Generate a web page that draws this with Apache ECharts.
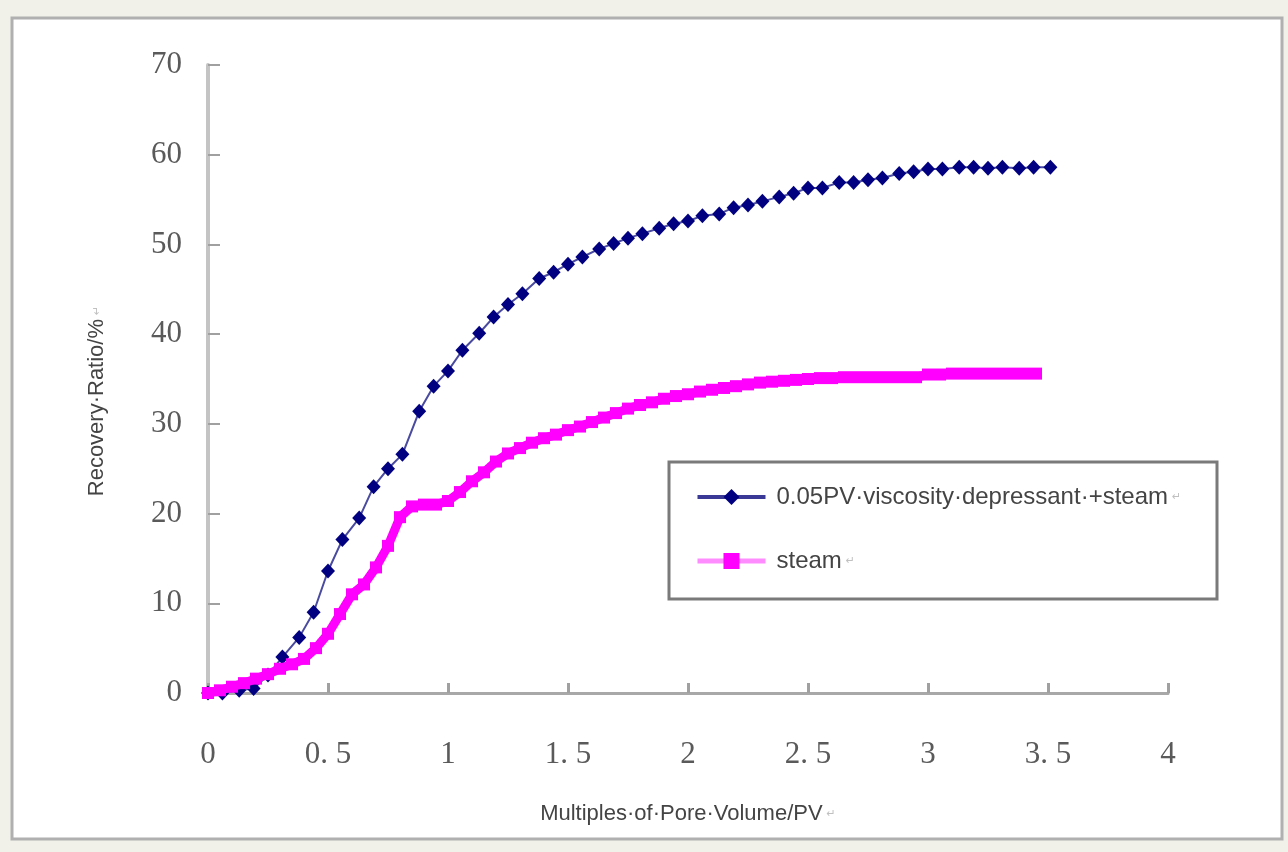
<!DOCTYPE html>
<html>
<head>
<meta charset="utf-8">
<script src="https://cdn.jsdelivr.net/npm/echarts@6/dist/echarts.min.js"></script>
<style>
  html, body { margin: 0; padding: 0; background: #f1f0e9; }
  #chart { width: 1288px; height: 852px; }
</style>
</head>
<body>
<div id="chart"></div>
<script>
// ---- data ----
const seriesNames = ['0.05PV·viscosity·depressant·+steam', 'steam'];
const xTickLabels = ['0', '0. 5', '1', '1. 5', '2', '2. 5', '3', '3. 5', '4'];
const yTickLabels = ['0', '10', '20', '30', '40', '50', '60', '70'];

const pvDepressant = [0, 0.06, 0.13, 0.19, 0.25, 0.31, 0.38, 0.44, 0.5, 0.56, 0.63, 0.69, 0.75, 0.81, 0.88, 0.94,
  1.0, 1.06, 1.13, 1.19, 1.25, 1.31, 1.38, 1.44, 1.5, 1.56, 1.63, 1.69, 1.75, 1.81, 1.88, 1.94,
  2.0, 2.06, 2.13, 2.19, 2.25, 2.31, 2.38, 2.44, 2.5, 2.56, 2.63, 2.69, 2.75, 2.81, 2.88, 2.94,
  3.0, 3.06, 3.13, 3.19, 3.25, 3.31, 3.38, 3.44, 3.51];
const recoveryDepressant = [0, 0, 0.3, 0.5, 2.0, 4.0, 6.2, 9.0, 13.6, 17.1, 19.5, 23.0, 25.0, 26.6, 31.4, 34.2,
  35.9, 38.2, 40.1, 41.9, 43.3, 44.5, 46.2, 46.9, 47.8, 48.6, 49.5, 50.1, 50.7, 51.2, 51.8, 52.3,
  52.6, 53.2, 53.4, 54.1, 54.4, 54.8, 55.3, 55.7, 56.3, 56.3, 56.9, 56.9, 57.2, 57.4, 57.9, 58.1,
  58.4, 58.4, 58.6, 58.6, 58.5, 58.6, 58.5, 58.6, 58.6];

const pvSteam = [0, 0.05, 0.1, 0.15, 0.2, 0.25, 0.3, 0.35, 0.4, 0.45, 0.5, 0.55, 0.6, 0.65, 0.7, 0.75, 0.8, 0.85, 0.9, 0.95,
  1.0, 1.05, 1.1, 1.15, 1.2, 1.25, 1.3, 1.35, 1.4, 1.45, 1.5, 1.55, 1.6, 1.65, 1.7, 1.75, 1.8, 1.85, 1.9, 1.95,
  2.0, 2.05, 2.1, 2.15, 2.2, 2.25, 2.3, 2.35, 2.4, 2.45, 2.5, 2.55, 2.6, 2.65, 2.7, 2.75, 2.8, 2.85, 2.9, 2.95,
  3.0, 3.05, 3.1, 3.15, 3.2, 3.25, 3.3, 3.35, 3.4, 3.45];
const recoverySteam = [0, 0.3, 0.7, 1.1, 1.6, 2.1, 2.7, 3.2, 3.8, 5.0, 6.6, 8.8, 11.0, 12.1, 14.0, 16.4, 19.6, 20.8, 21.0, 21.0,
  21.4, 22.4, 23.6, 24.6, 25.8, 26.7, 27.3, 27.9, 28.4, 28.8, 29.3, 29.7, 30.2, 30.7, 31.2, 31.7, 32.1, 32.4, 32.8, 33.1,
  33.3, 33.6, 33.8, 34.0, 34.2, 34.4, 34.6, 34.7, 34.8, 34.9, 35.0, 35.1, 35.1, 35.2, 35.2, 35.2, 35.2, 35.2, 35.2, 35.2,
  35.5, 35.5, 35.6, 35.6, 35.6, 35.6, 35.6, 35.6, 35.6, 35.6];

const xAxisTitle = 'Multiples·of·Pore·Volume/PV';
const yAxisTitle = 'Recovery·Ratio/%';
const paraMark = '↵';

// ---- build chart ----
const pairs = (xs, ys) => xs.map((x, i) => [x, ys[i]]);
const chart = echarts.init(document.getElementById('chart'));

const tickFont = { fontFamily: 'Liberation Serif', fontSize: 31, color: '#5a5a5a' };
const markStyle = { fontFamily: 'DejaVu Sans', fontSize: 11, color: '#c0c0c0', padding: [0, 0, 0, 4] };
const nameFont = {
  fontFamily: 'Liberation Sans', fontSize: 22, color: '#444',
  rich: { m: markStyle }
};

chart.setOption({
  backgroundColor: '#f1f0e9',
  animation: false,
  graphic: [
    { type: 'rect', z: -10, shape: { x: 12, y: 18, width: 1270, height: 821 },
      style: { fill: '#ffffff', stroke: '#b0b0b0', lineWidth: 3 } },
    { type: 'rect', z: 3, shape: { x: 669, y: 462, width: 548, height: 137 },
      style: { fill: '#ffffff', stroke: '#7a7a7a', lineWidth: 3 } }
  ],
  grid: { left: 208, top: 65, right: 120, bottom: 159, containLabel: false },
  legend: {
    orient: 'vertical', left: 690, top: 480, z: 5,
    itemWidth: 68, itemHeight: 20, itemGap: 40,
    formatter: (n) => n + '{m|' + paraMark + '}',
    textStyle: { fontFamily: 'Liberation Sans', fontSize: 24, color: '#444', padding: [0, 0, 0, 6],
      rich: { m: markStyle } },
    data: [
      { name: seriesNames[0], lineStyle: { color: '#3a3a96', width: 4 } },
      { name: seriesNames[1], lineStyle: { color: '#ff8cff', width: 5 } }
    ]
  },
  xAxis: {
    type: 'value', min: 0, max: 4, interval: 0.5,
    name: xAxisTitle + '{m|' + paraMark + '}', nameLocation: 'middle', nameGap: 110,
    nameTextStyle: nameFont,
    axisLine: { show: true, lineStyle: { color: '#a8a8a8', width: 3 } },
    axisTick: { show: true, inside: true, length: 10, lineStyle: { color: '#a0a0a0', width: 3 } },
    axisLabel: { ...tickFont, margin: 46, formatter: (v) => xTickLabels[Math.round(v / 0.5)] },
    splitLine: { show: false }
  },
  yAxis: {
    type: 'value', min: 0, max: 70, interval: 10,
    name: yAxisTitle + '{m|' + paraMark + '}', nameLocation: 'middle', nameGap: 100, nameRotate: 90,
    nameTextStyle: { ...nameFont, padding: [0, 44, 0, 0] },
    axisLine: { show: true, lineStyle: { color: '#c4c4c4', width: 4 } },
    axisTick: { show: true, inside: true, length: 12, lineStyle: { color: '#a0a0a0', width: 2 } },
    axisLabel: { ...tickFont, margin: 26, formatter: (v) => yTickLabels[Math.round(v / 10)] },
    splitLine: { show: false }
  },
  series: [
    {
      name: seriesNames[0], type: 'line', data: pairs(pvDepressant, recoveryDepressant),
      symbol: 'diamond', symbolSize: [14, 15], z: 2,
      itemStyle: { color: '#000080' },
      lineStyle: { color: '#4a4aa0', width: 2 }
    },
    {
      name: seriesNames[1], type: 'line', data: pairs(pvSteam, recoverySteam),
      symbol: 'rect', symbolSize: 12, z: 3,
      itemStyle: { color: '#ff00ff' },
      lineStyle: { color: '#ff00ff', width: 9 }
    }
  ]
});
</script>
</body>
</html>
